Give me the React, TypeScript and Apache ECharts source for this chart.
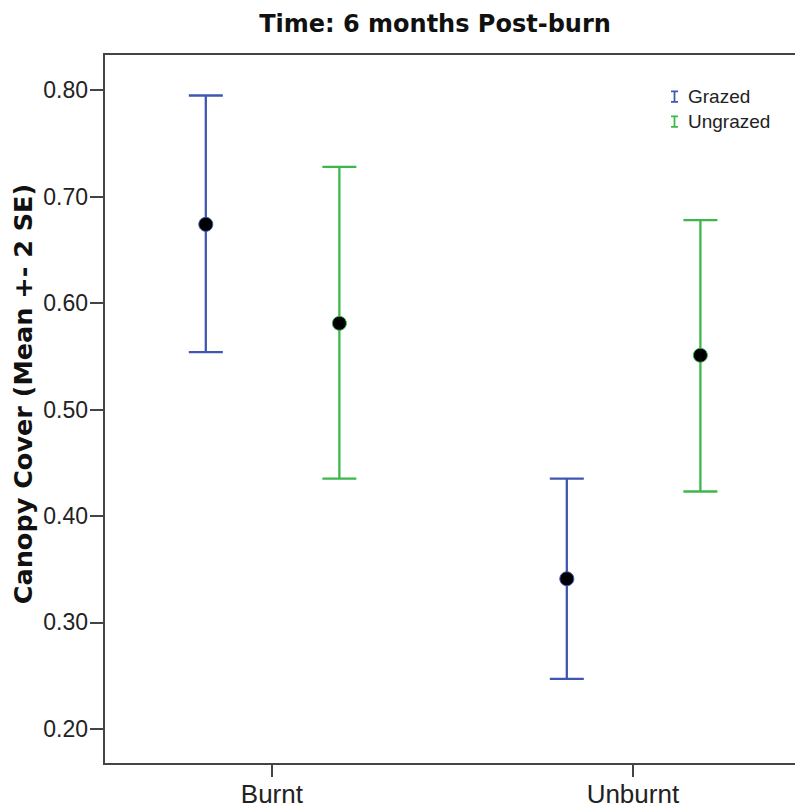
import React, { useEffect, useRef } from "react";
import * as echarts from "echarts";

const categories = ["Burnt", "Unburnt"];
const seriesNames = ["Grazed", "Ungrazed"];
const grazedLow = [0.554, 0.247];
const grazedMean = [0.674, 0.341];
const grazedHigh = [0.795, 0.435];
const ungrazedLow = [0.435, 0.423];
const ungrazedMean = [0.581, 0.551];
const ungrazedHigh = [0.728, 0.678];
const yTicks = [0.2, 0.3, 0.4, 0.5, 0.6, 0.7, 0.8];
const xTicks = [0, 1];
const groupOffsets = [-0.183, 0.187];

const BLUE = "#3f57b2";
const GREEN = "#3cb84b";
const FONT = "'Liberation Sans', Arial, sans-serif";
const BOLD_FONT = "'DejaVu Sans', 'Liberation Sans', sans-serif";

function makeSeries(name: string, low: number[], mean: number[], high: number[], color: string, offset: number) {
  return {
    type: "custom",
    name,
    data: categories.map((_, i) => [i + offset, low[i], mean[i], high[i]]),
    encode: { x: 0, y: [1, 2, 3] },
    itemStyle: { color },
    renderItem: (params: any, api: any) => {
      const xv = api.value(0);
      const pLow = api.coord([xv, api.value(1)]);
      const pMean = api.coord([xv, api.value(2)]);
      const pHigh = api.coord([xv, api.value(3)]);
      const x = pLow[0];
      const cap = 17;
      const ls = { stroke: color, lineWidth: 2.3 };
      return {
        type: "group",
        children: [
          { type: "line", shape: { x1: x, y1: pHigh[1], x2: x, y2: pLow[1] }, style: ls },
          { type: "line", shape: { x1: x - cap, y1: pHigh[1], x2: x + cap, y2: pHigh[1] }, style: ls },
          { type: "line", shape: { x1: x - cap, y1: pLow[1], x2: x + cap, y2: pLow[1] }, style: ls },
          { type: "circle", shape: { cx: x, cy: pMean[1], r: 7 }, style: { fill: "#000", stroke: color, lineWidth: 1 } },
        ],
      };
    },
  };
}

const legendIcon = "path://M0,0H8V2H5V12H8V14H0V12H3V2H0Z";

export default function App() {
  const ref = useRef<HTMLDivElement>(null);
  useEffect(() => {
    const chart = echarts.init(ref.current!, null, { renderer: "svg" });
    chart.setOption({
      animation: false,
      backgroundColor: "#fff",
      title: {
        text: "Time: 6 months Post-burn",
        left: 430,
        textAlign: "center",
        top: 7,
        textStyle: { fontFamily: BOLD_FONT, fontSize: 24, fontWeight: "bold", color: "#111" },
      },
      legend: {
        orient: "vertical",
        left: 666,
        top: 82,
        itemGap: 6,
        itemWidth: 7,
        itemHeight: 13,
        data: seriesNames.map((n, i) => ({ name: n, icon: legendIcon, itemStyle: { color: i === 0 ? BLUE : GREEN } })),
        textStyle: { fontFamily: FONT, fontSize: 19, color: "#222", padding: [0, 0, 0, 5] },
      },
      graphic: [
        {
          type: "text",
          x: 23,
          y: 394,
          rotation: Math.PI / 2,
          style: {
            text: "Canopy Cover (Mean +- 2 SE)",
            fontFamily: BOLD_FONT,
            fontSize: 25.5,
            fontWeight: "bold",
            fill: "#111",
            align: "center",
            verticalAlign: "middle",
          },
        },
      ],
      grid: {
        left: 104,
        top: 54,
        width: 700,
        height: 710,
        show: true,
        borderColor: "#444",
        borderWidth: 2,
        outerBoundsMode: "none",
        containLabel: false,
      },
      xAxis: {
        type: "value",
        min: -0.465,
        max: 1.474,
        splitLine: { show: false },
        axisLine: { show: true, onZero: false, lineStyle: { color: "#444", width: 2 } },
        axisTick: { show: true, length: 13, customValues: xTicks, lineStyle: { color: "#444", width: 2 } },
        axisLabel: {
          fontFamily: FONT,
          fontSize: 26,
          color: "#222",
          margin: 17,
          customValues: xTicks,
          formatter: (v: number) => categories[Math.round(v)] ?? "",
        },
      },
      yAxis: {
        type: "value",
        min: 0.167,
        max: 0.834,
        splitLine: { show: false },
        axisLine: { show: true, onZero: false, lineStyle: { color: "#444", width: 2 } },
        axisTick: { show: true, length: 14, customValues: yTicks, lineStyle: { color: "#444", width: 2 } },
        axisLabel: {
          fontFamily: FONT,
          fontSize: 23,
          color: "#222",
          margin: 16,
          customValues: yTicks,
          formatter: (v: number) => v.toFixed(2),
        },
      },
      series: [
        makeSeries(seriesNames[0], grazedLow, grazedMean, grazedHigh, BLUE, groupOffsets[0]),
        makeSeries(seriesNames[1], ungrazedLow, ungrazedMean, ungrazedHigh, GREEN, groupOffsets[1]),
      ],
    });
    return () => chart.dispose();
  }, []);
  return <div ref={ref} style={{ position: "fixed", left: 0, top: 0, width: 795, height: 810 }} />;
}
